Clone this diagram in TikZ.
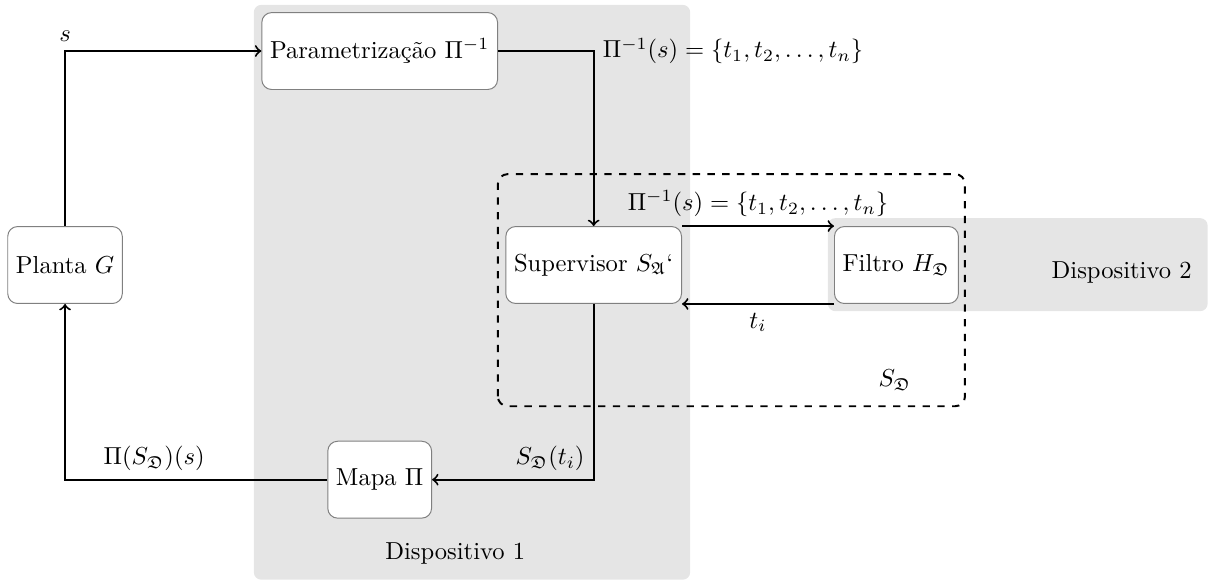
\documentclass[tikz,border=0pt]{standalone}
\usepackage{amsmath,amssymb,amsfonts}
\usepackage{xcolor}
\usepackage{tikz}
\usetikzlibrary{shapes,arrows,positioning,calc}

\begin{document}
\begin{tikzpicture}

% Supervisao distribuida em dois dispositivos
\tikzstyle{bloco}=[rectangle, draw=gray, fill=white, rounded corners, minimum height=1.1cm]
\tikzstyle{disp}=[fill=gray!20, rounded corners=3pt]
\tikzstyle{seta}=[->, thick]

\useasboundingbox (0,0) rectangle (17.29,8.31);

% Dispositivos
\fill[disp] (3.63,0.02) rectangle (9.87,8.24);
\fill[disp] (11.84,3.86) rectangle (17.27,5.19);

% Supervisor S_D
\draw[thick, dashed, rounded corners=4pt] (7.12,2.50) rectangle (13.80,5.82);

% Blocos
\node[bloco] (planta) at (0.93,4.52) {Planta $G$};
\node[bloco] (param) at (5.43,7.58) {Parametrização $\Pi^{-1}$};
\node[bloco] (superv) at (8.49,4.52) {Supervisor $S_{\mathfrak{A}}$`};
\node[bloco] (filtro) at (12.82,4.52) {Filtro $H_{\mathfrak{D}}$};
\node[bloco] (mapa) at (5.43,1.45) {Mapa $\Pi$};

% Setas
\draw[seta] (planta.north) |- node[pos=0.5, above] {$s$} (param.west);
\draw[seta] (param.east) -| node[pos=0.5, right] {$\Pi^{-1}(s) = \{t_1, t_2, \ldots, t_n\}$} (superv.north);
\draw[seta] (superv.north east) -- node[above] {$\Pi^{-1}(s) = \{t_1, t_2, \ldots, t_n\}$} (filtro.north west);
\draw[seta] (filtro.south west) -- node[below] {$t_i$} (superv.south east);
\draw[seta] (superv.south) |- node[pos=0.5, above left] {$S_{\mathfrak{D}}(t_i)$} (mapa.east);
\draw[seta] (mapa.west) -| node[pos=0.33, above] {$\Pi(S_{\mathfrak{D}})(s)$} (planta.south);

% Rotulos
\node (d1) at (6.51,0.40) {Dispositivo 1};
\node (d2) at (16.04,4.42) {Dispositivo 2};
\node (sd) at (12.80,2.87) {$S_{\mathfrak{D}}$};

\end{tikzpicture}
\end{document}
